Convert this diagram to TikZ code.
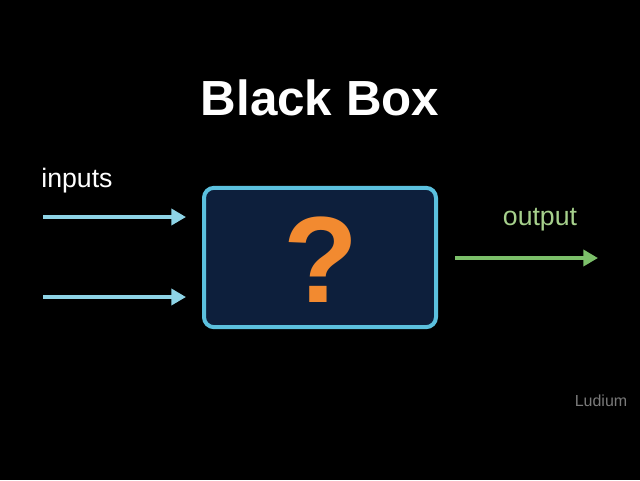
\documentclass[tikz,border=0pt]{standalone}
\usepackage{fontspec}
\setmainfont{Liberation Sans}
\usetikzlibrary{arrows.meta}
\definecolor{bgc}{HTML}{000000}
\definecolor{boxfill}{HTML}{0D1F3C}
\definecolor{boxline}{HTML}{5BC0DE}
\definecolor{inarrow}{HTML}{8ED4E6}
\definecolor{outarrow}{HTML}{7CC06A}
\definecolor{outtext}{HTML}{A6D08C}
\definecolor{qmark}{HTML}{F28A30}
\definecolor{credit}{HTML}{7A7A7A}
\tikzset{
  px/.style={x=0.75pt,y=-0.75pt},
  inflow/.style={draw=inarrow,line width=3pt,-{Triangle[length=11pt,width=12pt]}},
  outflow/.style={draw=outarrow,line width=3pt,-{Triangle[length=11pt,width=12pt]}},
  blackbox/.style={draw=boxline,fill=boxfill,line width=3pt,rounded corners=7.5pt,minimum width=174pt,minimum height=104.5pt,inner sep=0pt},
  lbl/.style={inner sep=0pt,anchor=base}
}
\begin{document}
\begin{tikzpicture}[px]
\fill[bgc] (0,0) rectangle (640,480);
\useasboundingbox (0,0) rectangle (640,480);
\node[lbl,text=white,font=\bfseries\fontsize{37}{40}\selectfont] (title) at (320,115) {Black Box};
\node[blackbox] (box) at (320,257.5) {};
\node[lbl,text=qmark,font=\bfseries\fontsize{92}{96}\selectfont] (q) at (321,302) {?};
\coordinate (i1s) at (43,217);
\coordinate (i1e) at (186,217);
\coordinate (i2s) at (43,297);
\coordinate (i2e) at (186,297);
\draw[inflow] (i1s) -- (i1e);
\draw[inflow] (i2s) -- (i2e);
\node[lbl,text=white,font=\fontsize{20}{24}\selectfont] (inputs) at (77,187) {inputs};
\coordinate (os) at (455,258);
\coordinate (oe) at (598,258);
\draw[outflow] (os) -- (oe);
\node[lbl,text=outtext,font=\fontsize{20}{24}\selectfont] (output) at (540,225) {output};
\node[lbl,text=credit,font=\fontsize{12}{14}\selectfont] (credit) at (601,406) {Ludium};
\end{tikzpicture}
\end{document}
